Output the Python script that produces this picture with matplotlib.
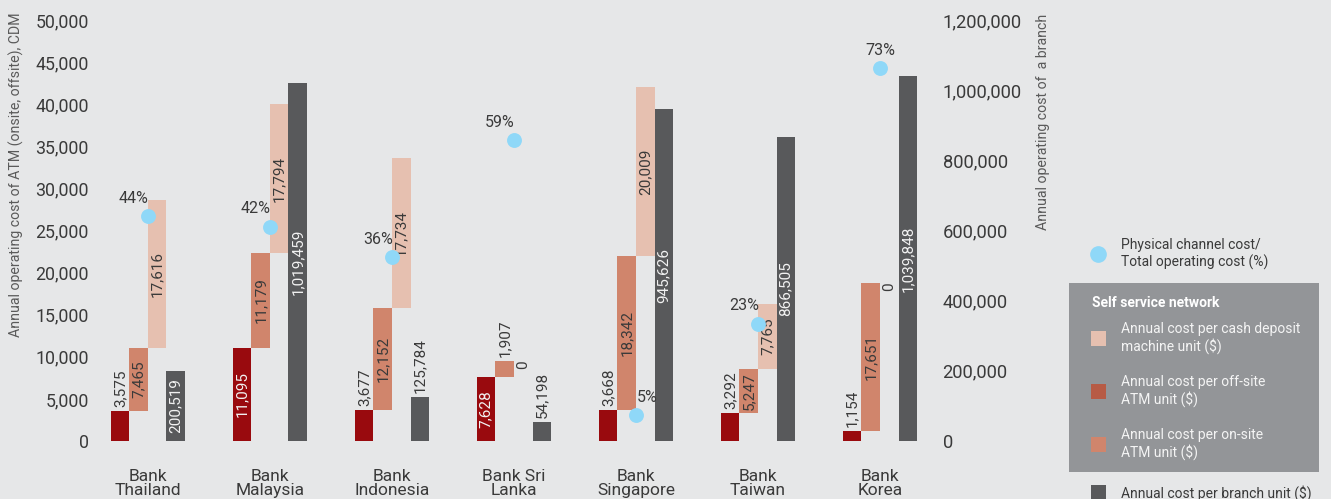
import matplotlib
matplotlib.use("Agg")
import matplotlib.pyplot as plt
from matplotlib.patches import Rectangle
import numpy as np

plt.rcParams['font.family'] = ['Roboto', 'DejaVu Sans']

# ---- data ----
banks = ["Bank\nThailand", "Bank\nMalaysia", "Bank\nIndonesia", "Bank Sri\nLanka",
         "Bank\nSingapore", "Bank\nTaiwan", "Bank\nKorea"]
offsite_atm = [3575, 11095, 3677, 7628, 3668, 3292, 1154]
onsite_atm = [7465, 11179, 12152, 1907, 18342, 5247, 17651]
cdm = [17616, 17794, 17734, 0, 20009, 7765, 0]
branch = [200519, 1019459, 125784, 54198, 945626, 866505, 1039848]
physical_pct = [44, 42, 36, 59, 5, 23, 73]
pct_label_align = ["right", "right", "right", "right", "left", "right", "center"]

# ---- styling ----
BG = "#E6E7E8"
C_OFF = "#990A0E"
C_ON = "#D0856C"
C_CDM = "#E6C0B0"
C_BRANCH = "#58595B"
C_DOT = "#8FD8F8"
C_TXT = "#3A3A3A"
C_LEG_BOX = "#939598"

W, H = 1331, 499
DPI = 100
fig = plt.figure(figsize=(W / DPI, H / DPI), dpi=DPI, facecolor=BG)

def fx(px):
    return px / W

def fy(py):
    return 1 - py / H

ax_left, ax_right, ax_top, ax_bot = 100, 930, 20, 441
ax = fig.add_axes([fx(ax_left), fy(ax_bot), fx(ax_right - ax_left), (ax_bot - ax_top) / H])
ax.set_facecolor(BG)
ax2 = ax.twinx()
ax3 = ax.twinx()

x = np.arange(len(banks))
w = 0.152
ax.set_xlim(-0.393, 6.41)
ax.set_ylim(0, 50000)
ax2.set_ylim(0, 1200000)
ax3.set_ylim(0, 82.5)

off = np.array(offsite_atm)
on = np.array(onsite_atm)
cd = np.array(cdm)

ax.bar(x - 1.5 * w, off, w, color=C_OFF, zorder=2)
ax.bar(x - 0.5 * w, on, w, bottom=off, color=C_ON, zorder=2)
ax.bar(x + 0.5 * w, cd, w, bottom=off + on, color=C_CDM, zorder=2)
ax2.bar(x + 1.5 * w, branch, w, color=C_BRANCH, zorder=2)

px_per_left = (ax_bot - ax_top) / 50000
px_per_right = (ax_bot - ax_top) / 1200000
LABEL_FS = 11
CHAR_PX = 7.6


def value_label(axis, xc, bottom, height, px_scale, inside_color):
    txt = f"{height:,}"
    need = len(txt) * CHAR_PX + 4
    bar_px = height * px_scale
    if height == 0:
        axis.annotate(txt, (xc, bottom), xytext=(0, 0), textcoords="offset points",
                      rotation=90, ha="center", va="top", fontsize=LABEL_FS,
                      color=C_TXT, zorder=4)
    elif bar_px >= need:
        axis.text(xc, bottom + height / 2, txt, rotation=90, ha="center", va="center",
                  fontsize=LABEL_FS, color=inside_color, zorder=4)
    else:
        axis.annotate(txt, (xc, bottom + height), xytext=(0, 3), textcoords="offset points",
                      rotation=90, ha="center", va="bottom", fontsize=LABEL_FS,
                      color=C_TXT, zorder=4)


for i in range(len(banks)):
    value_label(ax, x[i] - 1.5 * w, 0, offsite_atm[i], px_per_left, "#F2F2F2")
    value_label(ax, x[i] - 0.5 * w, offsite_atm[i], onsite_atm[i], px_per_left, C_TXT)
    value_label(ax, x[i] + 0.5 * w, offsite_atm[i] + onsite_atm[i], cdm[i], px_per_left, C_TXT)
    value_label(ax2, x[i] + 1.5 * w, 0, branch[i], px_per_right, "#F2F2F2")

# physical channel share dots
ax3.scatter(x, physical_pct, s=115, color=C_DOT, zorder=5, linewidths=0)
for xi, p, al in zip(x, physical_pct, pct_label_align):
    dx = {"right": 1, "left": 1, "center": 0}[al]
    ax3.annotate(f"{p}%", (xi, p), xytext=(dx * 0.7, 7.5), textcoords="offset points",
                 ha=al, va="bottom", fontsize=11.5, color=C_TXT, zorder=6)

for a in (ax, ax2, ax3):
    for s in a.spines.values():
        s.set_visible(False)
ax2.set_zorder(ax.get_zorder() + 1)
ax3.set_zorder(ax.get_zorder() + 2)
ax2.patch.set_visible(False)
ax3.patch.set_visible(False)

ax.set_yticks(np.arange(0, 50001, 5000))
ax.set_yticklabels([f"{v:,}" for v in range(0, 50001, 5000)])
ax.tick_params(axis="y", length=0, pad=8, labelsize=12.8, labelcolor=C_TXT)
ax2.set_yticks(np.arange(0, 1200001, 200000))
ax2.set_yticklabels([f"{v:,}" for v in range(0, 1200001, 200000)])
ax2.tick_params(axis="y", length=0, pad=9, labelsize=13.2, labelcolor=C_TXT)
ax3.set_yticks([])

ax.set_xticks(x)
ax.set_xticklabels(banks, fontsize=12.5, color=C_TXT, linespacing=0.95)
ax.tick_params(axis="x", length=0, pad=20)

fig.text(fx(16), fy(12), "Annual operating cost of ATM (onsite, offsite), CDM",
         rotation=90, ha="center", va="top", fontsize=10.2, color="#5A5A5A")
fig.text(fx(1043), fy(14), "Annual operating cost of  a branch",
         rotation=90, ha="center", va="top", fontsize=10.2, color="#5A5A5A")

# ---- legend ----
LEG_FS = 10
fig.add_artist(plt.Line2D([fx(1098)], [fy(254)], marker="o", markersize=11,
                          color=C_DOT, linestyle="none", transform=fig.transFigure))
fig.text(fx(1121), fy(254), "Physical channel cost/\nTotal operating cost (%)",
         ha="left", va="center", fontsize=LEG_FS, color=C_TXT, linespacing=1.15)

fig.add_artist(Rectangle((fx(1069), fy(472)), fx(1319 - 1069), (472 - 283) / H,
                         transform=fig.transFigure, facecolor=C_LEG_BOX, edgecolor="none"))
fig.text(fx(1092), fy(303), "Self service network", ha="left", va="center",
         fontsize=LEG_FS, color="white", fontweight="bold")

legend_items = [
    (C_CDM, "Annual cost per cash deposit\nmachine unit ($)", 338),
    ("#B75B45", "Annual cost per off-site\nATM unit ($)", 391),
    (C_ON, "Annual cost per on-site\nATM unit ($)", 444),
]
for col, lab, yc in legend_items:
    fig.add_artist(Rectangle((fx(1091), fy(yc + 7.5)), fx(15), 15 / H,
                             transform=fig.transFigure, facecolor=col, edgecolor="none"))
    fig.text(fx(1121), fy(yc), lab, ha="left", va="center", fontsize=LEG_FS,
             color="#F4F4F4", linespacing=1.15)

fig.add_artist(Rectangle((fx(1091), fy(500)), fx(15), 15 / H,
                         transform=fig.transFigure, facecolor=C_BRANCH, edgecolor="none"))
fig.text(fx(1121), fy(493), "Annual cost per branch unit ($)", ha="left", va="center",
         fontsize=LEG_FS, color=C_TXT)

fig.savefig("out.png", dpi=DPI, facecolor=BG)
